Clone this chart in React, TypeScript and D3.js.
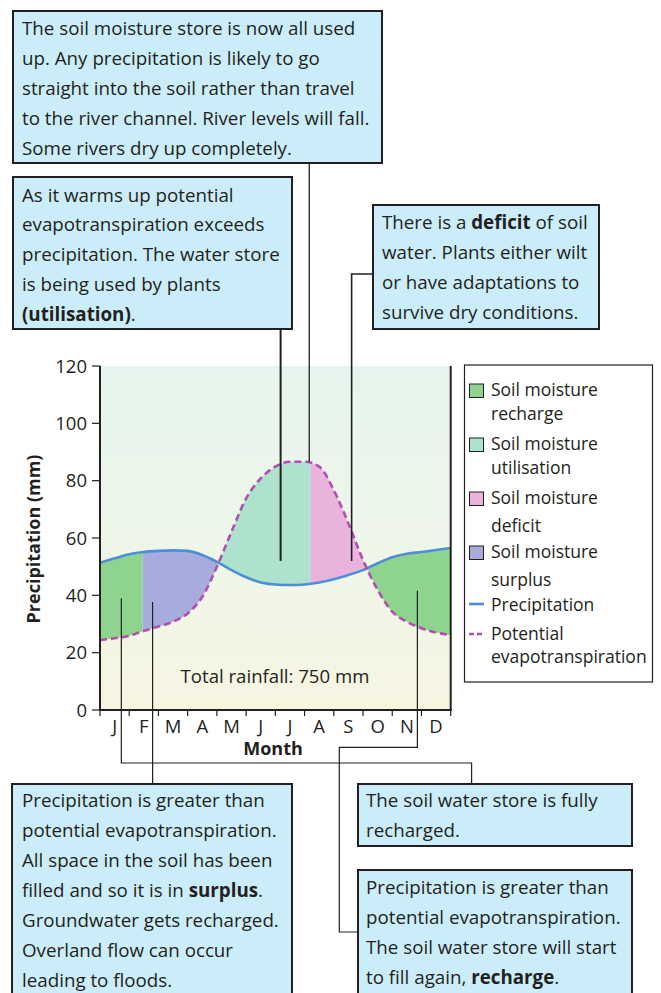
import React from 'react';
import * as d3 from 'd3';

// ---------- data ----------
const months = ['J', 'F', 'M', 'A', 'M', 'J', 'J', 'A', 'S', 'O', 'N', 'D'];
// positions in month units (0 = start of January, 12 = end of December)
const samplePositions = [0, 0.5, 1, 1.5, 2, 2.5, 3, 3.5, 4, 4.5, 5, 5.5, 6, 6.5, 7, 7.5, 8, 8.5, 9, 9.5, 10, 10.5, 11, 11.5, 12];
const precipitation = [51.4, 52.9, 54.3, 55.1, 55.5, 55.7, 55.5, 54.1, 51.7, 48.8, 46.3, 44.5, 43.8, 43.6, 43.8, 44.5, 45.6, 47.1, 48.8, 51.2, 53.3, 54.5, 55.1, 55.8, 56.5];
const evapotranspiration = [24.4, 25.0, 25.9, 27.6, 29.1, 30.8, 33.7, 39.5, 50.0, 62.2, 73.8, 80.8, 84.9, 86.6, 86.6, 84.9, 76.7, 65.1, 52.3, 41.9, 34.3, 30.8, 28.5, 27.0, 26.2];
const yTicks = [0, 20, 40, 60, 80, 100, 120];
const zoneNames = ['recharge', 'surplus', 'utilisation', 'deficit', 'recharge'];
const zoneBounds = [0, 1.46, 4.0, 7.2, 9.2, 12];
const legendLabels = [
  ['recharge', ['Soil moisture', 'recharge']],
  ['utilisation', ['Soil moisture', 'utilisation']],
  ['deficit', ['Soil moisture', 'deficit']],
  ['surplus', ['Soil moisture', 'surplus']],
];

const COLORS: Record<string, string> = {
  recharge: '#8fd48e',
  utilisation: '#ade3cc',
  deficit: '#e8b4dc',
  surplus: '#a7acdc',
  precip: '#4d8fd6',
  pet: '#b04fb0',
};

const FONT = "'Open Sans', sans-serif";
const INK = '#231f20';
const BOX_FILL = '#cbedf9';

type Seg = { t: string; b?: boolean };
type Line = string | Seg[];

function Callout({ x, y, w, h, tx, ty, lines, lh = 30 }: { x: number; y: number; w: number; h: number; tx: number; ty: number; lines: Line[]; lh?: number }) {
  return (
    <g>
      <rect x={x} y={y} width={w} height={h} fill={BOX_FILL} stroke={INK} strokeWidth={2} />
      <text fontFamily={FONT} fontSize={18.75} fill={INK}>
        {lines.map((ln, i) => (
          <tspan key={i} x={tx} y={ty + i * lh}>
            {typeof ln === 'string'
              ? ln
              : ln.map((s, j) => (
                  <tspan key={j} fontWeight={s.b ? 'bold' : 'normal'}>{s.t}</tspan>
                ))}
          </tspan>
        ))}
      </text>
    </g>
  );
}

export default function App() {
  const W = 661, H = 993;
  const x = d3.scaleLinear().domain([0, 12]).range([100, 450.7]);
  const y = d3.scaleLinear().domain([0, 120]).range([710, 366]);

  const pts = samplePositions.map((p, i) => ({ p, pr: precipitation[i], et: evapotranspiration[i] }));
  const prLine = d3.line<any>().x(d => x(d.p)).y(d => y(d.pr)).curve(d3.curveMonotoneX)(pts) as string;
  const etLine = d3.line<any>().x(d => x(d.p)).y(d => y(d.et)).curve(d3.curveMonotoneX)(pts) as string;
  const between = d3.area<any>().x(d => x(d.p)).y0(d => y(d.et)).y1(d => y(d.pr)).curve(d3.curveMonotoneX)(pts) as string;

  const yTop = y(120), yBot = y(0);

  return (
    <svg width={W} height={H} style={{ position: 'absolute', left: 0, top: 0 }} xmlns="http://www.w3.org/2000/svg">
      <defs>
        <linearGradient id="bg" x1="0" y1="0" x2="0" y2="1">
          <stop offset="0" stopColor="#e6f5ee" />
          <stop offset="0.5" stopColor="#eef6e9" />
          <stop offset="1" stopColor="#f7f5e2" />
        </linearGradient>
        {zoneNames.map((z, i) => (
          <clipPath id={`zone${i}`} key={i}>
            <rect x={x(zoneBounds[i])} y={yTop} width={x(zoneBounds[i + 1]) - x(zoneBounds[i])} height={yBot - yTop} />
          </clipPath>
        ))}
      </defs>

      {/* plot background */}
      <rect x={x(0)} y={yTop} width={x(12) - x(0)} height={yBot - yTop} fill="url(#bg)" />

      {/* zones between curves */}
      {zoneNames.map((z, i) => (
        <path key={i} d={between} fill={COLORS[z]} clipPath={`url(#zone${i})`} />
      ))}

      {/* curves */}
      <path d={prLine} fill="none" stroke={COLORS.precip} strokeWidth={2.6} />
      <path d={etLine} fill="none" stroke={COLORS.pet} strokeWidth={2.6} strokeDasharray="7 4" />

      {/* axes */}
      <line x1={x(0)} x2={x(0)} y1={yTop} y2={yBot} stroke={INK} strokeWidth={2} />
      <line x1={x(12)} x2={x(12)} y1={yTop} y2={yBot} stroke={INK} strokeWidth={2} />
      <line x1={x(0) - 1} x2={x(12) + 1} y1={yBot} y2={yBot} stroke={INK} strokeWidth={2} />
      {yTicks.map(t => (
        <g key={t}>
          <line x1={x(0) - 8} x2={x(0)} y1={y(t)} y2={y(t)} stroke={INK} strokeWidth={1.2} />
          <text x={x(0) - 13} y={y(t) + 6.5} textAnchor="end" fontFamily={FONT} fontSize={18.5} fill={INK}>{t}</text>
        </g>
      ))}
      {d3.range(13).map(i => (
        <line key={i} x1={x(i)} x2={x(i)} y1={yBot} y2={yBot + 6} stroke={INK} strokeWidth={1.2} />
      ))}
      {months.map((m, i) => (
        <text key={i} x={x(i + 0.5)} y={733} textAnchor="middle" fontFamily={FONT} fontSize={18.5} fill={INK}>{m}</text>
      ))}
      <text x={273} y={755} textAnchor="middle" fontFamily={FONT} fontSize={18} fontWeight="bold" fill={INK}>Month</text>
      <text transform={`translate(39.5,${(yTop + yBot) / 2 + 1}) rotate(-90)`} textAnchor="middle" fontFamily={FONT} fontSize={18} fontWeight="bold" fill={INK}>Precipitation (mm)</text>
      <text x={275} y={683} textAnchor="middle" fontFamily={FONT} fontSize={18.6} fill={INK}>Total rainfall: 750 mm</text>

      {/* legend */}
      <rect x={464.5} y={365} width={188} height={317} fill="#fff" stroke={INK} strokeWidth={1.2} />
      {legendLabels.map(([key, lab], i) => {
        const by = 396 + i * 54;
        return (
          <g key={i}>
            <rect x={469.5} y={by - 12} width={14} height={13.5} fill={COLORS[key as string]} stroke={INK} strokeWidth={1} />
            <text fontFamily={FONT} fontSize={17.5} fill={INK}>
              <tspan x={491} y={by}>{(lab as string[])[0]}</tspan>
              <tspan x={491} y={by + (i < 2 ? 24 : 28)}>{(lab as string[])[1]}</tspan>
            </text>
          </g>
        );
      })}
      <line x1={469} x2={484} y1={604} y2={604} stroke={COLORS.precip} strokeWidth={2.6} />
      <text x={491} y={611} fontFamily={FONT} fontSize={17.5} fill={INK}>Precipitation</text>
      <line x1={469} x2={484} y1={634} y2={634} stroke={COLORS.pet} strokeWidth={2.6} strokeDasharray="5 3" />
      <text fontFamily={FONT} fontSize={17.5} fill={INK}>
        <tspan x={491} y={640}>Potential</tspan>
        <tspan x={491} y={663}>evapotranspiration</tspan>
      </text>

      {/* connectors */}
      <g stroke={INK} fill="none">
        <line x1={x(7.16)} x2={x(7.16)} y1={163} y2={y(86.5)} strokeWidth={1.3} />
        <line x1={x(6.18)} x2={x(6.18)} y1={329} y2={y(52)} strokeWidth={2} />
        <polyline points={`373,274 ${x(8.61)},274 ${x(8.61)},${y(52)}`} strokeWidth={1.6} />
        <polyline points={`${x(0.73)},${y(39)} ${x(0.73)},763 471.6,763 471.6,784`} strokeWidth={1.2} />
        <line x1={x(1.8)} x2={x(1.8)} y1={y(37.7)} y2={784} strokeWidth={1.2} />
        <polyline points={`${x(10.86)},${y(41.6)} ${x(10.86)},747.3 339.3,747.3 339.3,932 358,932`} strokeWidth={1.2} />
      </g>

      {/* callouts */}
      <Callout x={13} y={11} w={369} h={152} tx={22} ty={34.5} lines={[
        'The soil moisture store is now all used',
        'up. Any precipitation is likely to go',
        'straight into the soil rather than travel',
        'to the river channel. River levels will fall.',
        'Some rivers dry up completely.',
      ]} />
      <Callout x={13} y={177} w={279} h={152} tx={22} ty={201.5} lh={29.8} lines={[
        'As it warms up potential',
        'evapotranspiration exceeds',
        'precipitation. The water store',
        'is being used by plants',
        [{ t: '(utilisation)', b: true }, { t: '.' }],
      ]} />
      <Callout x={373} y={205} w={226} h={124} tx={382} ty={229} lines={[
        [{ t: 'There is a ' }, { t: 'deficit', b: true }, { t: ' of soil' }],
        'water. Plants either wilt',
        'or have adaptations to',
        'survive dry conditions.',
      ]} />
      <Callout x={12} y={784} w={280} h={230} tx={22} ty={807} lines={[
        'Precipitation is greater than',
        'potential evapotranspiration.',
        'All space in the soil has been',
        [{ t: 'filled and so it is in ' }, { t: 'surplus', b: true }, { t: '.' }],
        'Groundwater gets recharged.',
        'Overland flow can occur',
        'leading to floods.',
      ]} />
      <Callout x={358} y={784} w={274} h={62} tx={366} ty={807} lines={[
        'The soil water store is fully',
        'recharged.',
      ]} />
      <Callout x={358} y={870} w={274} h={150} tx={366} ty={894} lines={[
        'Precipitation is greater than',
        'potential evapotranspiration.',
        'The soil water store will start',
        [{ t: 'to fill again, ' }, { t: 'recharge', b: true }, { t: '.' }],
      ]} />
    </svg>
  );
}
